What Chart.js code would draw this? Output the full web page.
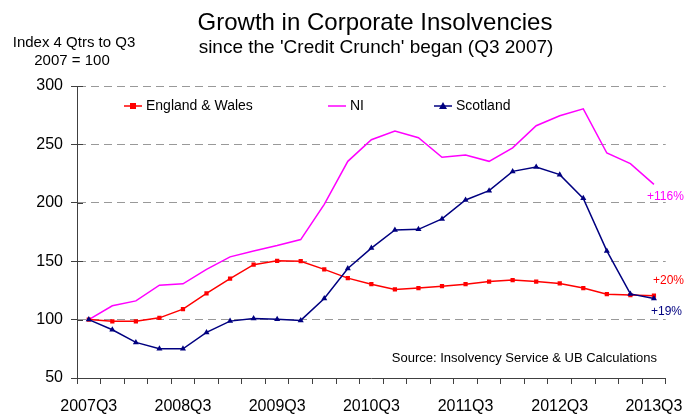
<!DOCTYPE html>
<html>
<head>
<meta charset="utf-8">
<script src="https://cdn.jsdelivr.net/npm/chart.js@4/dist/chart.umd.min.js"></script>
<style>
html,body{margin:0;padding:0;background:#fff;}
canvas{display:block;}
</style>
</head>
<body>
<canvas id="c" width="696" height="416"></canvas>
<script>
const quarters = ["2007Q3","2007Q4","2008Q1","2008Q2","2008Q3","2008Q4","2009Q1","2009Q2","2009Q3","2009Q4","2010Q1","2010Q2","2010Q3","2010Q4","2011Q1","2011Q2","2011Q3","2011Q4","2012Q1","2012Q2","2012Q3","2012Q4","2013Q1","2013Q2","2013Q3"];
const englandWales = [100, 98.5, 98.5, 101.5, 109, 122.4, 135, 147, 150.3, 150, 143, 135.5, 130.3, 125.8, 127, 128.6, 130.3, 132.6, 133.8, 132.6, 131, 127, 121.8, 121, 120.5];
const northernIreland = [100, 111.8, 116, 129.5, 130.6, 143, 153.7, 158.8, 163.4, 168.5, 198.7, 235.5, 254, 261.4, 255.7, 239, 240.9, 235.5, 247, 266, 274.5, 280.5, 242.6, 233.5, 215.8];
const scotland = [100, 91.3, 80.5, 75, 75, 89, 98.7, 101, 100.4, 99.3, 118, 143.7, 161.2, 176.8, 177.3, 186.2, 202.4, 210.4, 226.9, 230.6, 224.1, 203.8, 158.8, 122, 118];
const seriesNames = ["England & Wales", "NI", "Scotland"];
const endLabels = ["+20%", "+116%", "+19%"];
const yTicks = [50, 100, 150, 200, 250, 300];

const FONT = "'Liberation Sans', Arial, sans-serif";
const RED = "#ff0000", MAG = "#ff00ff", NAVY = "#000080", AXIS = "#404040";

const overlay = {
  id: "overlay",
  afterDraw(chart) {
    const ctx = chart.ctx;
    const ys = chart.scales.y;
    ctx.save();
    // inner part of crossing y ticks
    ctx.strokeStyle = AXIS; ctx.lineWidth = 1;
    yTicks.forEach(v => {
      const py = Math.round(ys.getPixelForValue(v)) + 0.5;
      ctx.beginPath(); ctx.moveTo(ys.right, py); ctx.lineTo(ys.right + 6, py); ctx.stroke();
    });
    // titles
    ctx.fillStyle = "#000";
    ctx.textAlign = "center"; ctx.textBaseline = "middle";
    ctx.font = "24px " + FONT;
    ctx.fillText("Growth in Corporate Insolvencies", 375, 23);
    ctx.font = "19px " + FONT;
    ctx.fillText("since the 'Credit Crunch' began (Q3 2007)", 376, 48);
    ctx.font = "15px " + FONT;
    ctx.fillText("Index 4 Qtrs to Q3", 74, 43);
    ctx.fillText("2007 = 100", 72, 61);
    // legend
    const items = [
      {name: seriesNames[0], color: RED, x: 124, marker: "rect"},
      {name: seriesNames[1], color: MAG, x: 328, marker: null},
      {name: seriesNames[2], color: NAVY, x: 434, marker: "tri"}
    ];
    ctx.font = "14px " + FONT; ctx.textAlign = "left";
    items.forEach(it => {
      const y = 106;
      ctx.strokeStyle = it.color; ctx.lineWidth = 1.5;
      ctx.beginPath(); ctx.moveTo(it.x, y); ctx.lineTo(it.x + 18, y); ctx.stroke();
      ctx.fillStyle = it.color;
      if (it.marker === "rect") ctx.fillRect(it.x + 6, y - 3, 6, 6);
      if (it.marker === "tri") { ctx.beginPath(); ctx.moveTo(it.x + 9, y - 4); ctx.lineTo(it.x + 13, y + 3); ctx.lineTo(it.x + 5, y + 3); ctx.closePath(); ctx.fill(); }
      ctx.fillStyle = "#000";
      ctx.fillText(it.name, it.x + 22, y);
    });
    // end labels
    ctx.font = "12px " + FONT;
    ctx.fillStyle = MAG; ctx.fillText(endLabels[1], 647, 197);
    ctx.fillStyle = RED; ctx.fillText(endLabels[0], 653, 281);
    ctx.fillStyle = NAVY; ctx.fillText(endLabels[2], 651, 312);
    // source
    ctx.fillStyle = "#000"; ctx.textAlign = "right"; ctx.font = "13px " + FONT;
    ctx.fillText("Source: Insolvency Service & UB Calculations", 657, 358);
    ctx.restore();
  }
};

new Chart(document.getElementById("c"), {
  type: "line",
  data: {
    labels: quarters,
    datasets: [
      {label: seriesNames[0], data: englandWales, borderColor: RED, backgroundColor: RED, borderWidth: 1.5, pointStyle: "rect", pointRadius: 3, pointBorderWidth: 0, tension: 0, order: 1},
      {label: seriesNames[1], data: northernIreland, borderColor: MAG, backgroundColor: MAG, borderWidth: 1.5, pointRadius: 0, tension: 0, order: 2},
      {label: seriesNames[2], data: scotland, borderColor: NAVY, backgroundColor: NAVY, borderWidth: 1.5, pointStyle: "triangle", pointRadius: 3.5, pointBorderWidth: 0, tension: 0, order: 0}
    ]
  },
  options: {
    responsive: false,
    animation: false,
    devicePixelRatio: 1,
    layout: {padding: {top: 86, right: 30, left: 0, bottom: 0}},
    plugins: {legend: {display: false}, tooltip: {enabled: false}, title: {display: false}},
    scales: {
      x: {
        offset: true,
        grid: {offset: true, drawOnChartArea: false, drawTicks: true, tickLength: 6, color: AXIS, tickColor: AXIS},
        border: {display: true, color: AXIS, width: 1},
        ticks: {autoSkip: false, maxRotation: 0, minRotation: 0, padding: 13, color: "#000", font: {family: FONT, size: 16},
          callback: function(v, i) { return i % 4 === 0 ? quarters[i] : ""; }},
        afterFit: s => { s.height = 38; }
      },
      y: {
        min: 50, max: 300,
        ticks: {stepSize: 50, padding: 8, color: "#000", font: {family: FONT, size: 16}},
        grid: {color: c => c.tick && c.tick.value === 50 ? "rgba(0,0,0,0)" : "#999999", lineWidth: 1, drawTicks: true, tickLength: 6, tickColor: AXIS, tickBorderDash: []},
        border: {display: true, color: AXIS, width: 1, dash: [8, 5]},
        afterFit: s => { s.width = 77; }
      }
    }
  },
  plugins: [overlay]
});
</script>
</body>
</html>
